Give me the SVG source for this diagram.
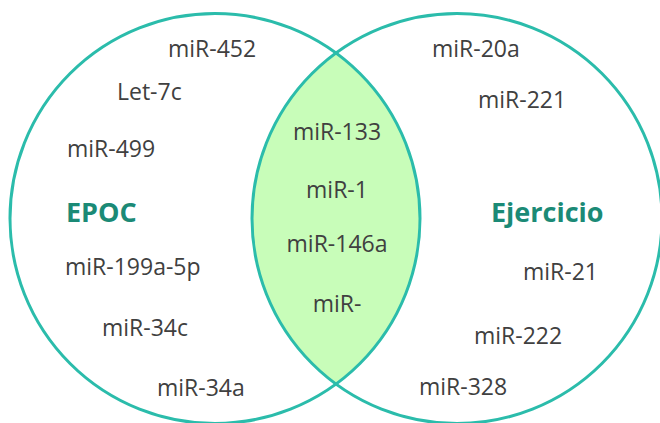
<svg xmlns="http://www.w3.org/2000/svg" width="660" height="423" viewBox="0 0 660 423">
<style>
.set{fill:none;stroke:#2bbcab;stroke-width:3}
.lens{fill:#c8fdb9;stroke:none}
.t{font-family:"Open Sans","Noto Sans",sans-serif;font-size:23px;fill:#404040}
.lbl{font-family:"Open Sans","Noto Sans",sans-serif;font-size:27px;font-weight:bold;fill:#1b8a76}
.m{text-anchor:middle}
</style>
<rect width="660" height="423" fill="#ffffff"/>
<g id="intersection">
<path class="lens" d="M336,53 A205,205 0 0 1 336,384 A205,205 0 0 1 336,53 Z"/>
</g>
<g id="epoc">
<circle class="set" cx="215" cy="218.5" r="205"/>
<text class="lbl" x="66" y="222">EPOC</text>
<text class="t" x="168" y="57">miR-452</text>
<text class="t" x="117" y="100">Let-7c</text>
<text class="t" x="67" y="157">miR-499</text>
<text class="t" x="65" y="275">miR-199a-5p</text>
<text class="t" x="102" y="336">miR-34c</text>
<text class="t" x="157" y="396">miR-34a</text>
</g>
<g id="ejercicio">
<circle class="set" cx="457" cy="218.5" r="205"/>
<text class="lbl" x="491" y="222">Ejercicio</text>
<text class="t" x="432" y="57">miR-20a</text>
<text class="t" x="478" y="108">miR-221</text>
<text class="t" x="523" y="280">miR-21</text>
<text class="t" x="474" y="344">miR-222</text>
<text class="t" x="419" y="395">miR-328</text>
</g>
<g id="shared">
<text class="t m" x="337" y="140">miR-133</text>
<text class="t m" x="337" y="198">miR-1</text>
<text class="t m" x="337" y="252">miR-146a</text>
<text class="t m" x="337" y="312">miR-</text>
</g>
</svg>
